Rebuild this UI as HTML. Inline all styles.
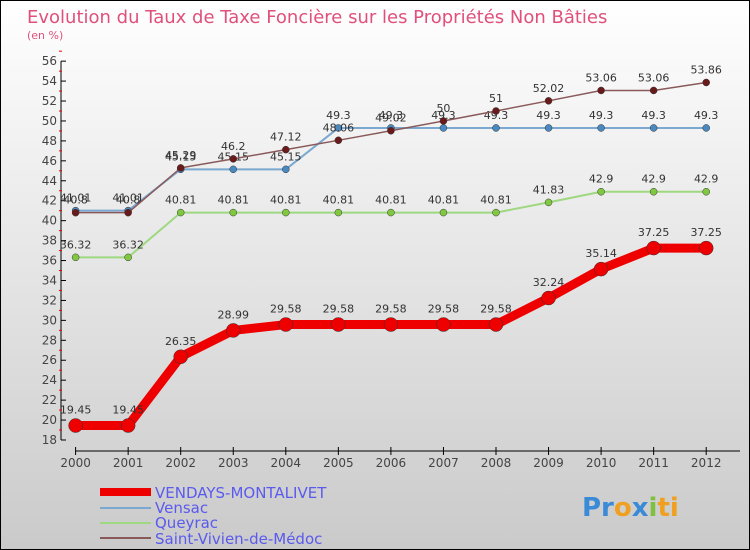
<!DOCTYPE html>
<html><head><meta charset="utf-8"><style>
body{margin:0}
svg{display:block;font-family:"DejaVu Sans","Liberation Sans",sans-serif}
</style></head><body>
<svg width="750" height="550" viewBox="0 0 750 550">
<defs><linearGradient id="bg" x1="0" y1="0" x2="0" y2="1"><stop offset="0" stop-color="#ffffff"/><stop offset="1" stop-color="#cacaca"/></linearGradient></defs>
<rect x="0.5" y="0.5" width="749" height="549" fill="url(#bg)" stroke="#000"/>
<text x="27" y="23" font-size="18" fill="#e0507a">Evolution du Taux de Taxe Foncière sur les Propriétés Non Bâties</text>
<text x="27" y="39" font-size="11" fill="#e0507a">(en %)</text>
<g id="axes"></g>
<g id="series"></g>
<g id="legend">
<rect x="100" y="488" width="51" height="8" fill="#e00"/>
<text x="155" y="498" font-size="15" fill="#5a5aee">VENDAYS-MONTALIVET</text>
<rect x="100" y="507" width="51" height="2" fill="#7aa8d0"/>
<text x="155" y="513" font-size="15" fill="#5a5aee">Vensac</text>
<rect x="100" y="522" width="51" height="2" fill="#9ed880"/>
<text x="155" y="528" font-size="15" fill="#5a5aee">Queyrac</text>
<rect x="100" y="537" width="51" height="2" fill="#8a5a5a"/>
<text x="155" y="544" font-size="15" fill="#5a5aee">Saint-Vivien-de-Médoc</text>
</g>
<g font-size="26" font-weight="bold">
<text x="582" y="516"><tspan fill="#3a8ad8">Pr</tspan><tspan fill="#f0a020">o</tspan><tspan fill="#3a8ad8">x</tspan><tspan fill="#80c040">i</tspan><tspan fill="#f0a020">ti</tspan></text>
</g>
</svg>
<script>
const years=["2000","2001","2002","2003","2004","2005","2006","2007","2008","2009","2010","2011","2012"];
const vendays=[19.45,19.45,26.35,28.99,29.58,29.58,29.58,29.58,29.58,32.24,35.14,37.25,37.25];
const vensac=[41.01,41.01,45.15,45.15,45.15,49.3,49.3,49.3,49.3,49.3,49.3,49.3,49.3];
const queyrac=[36.32,36.32,40.81,40.81,40.81,40.81,40.81,40.81,40.81,41.83,42.9,42.9,42.9];
const stvivien=[40.8,40.8,45.29,46.2,47.12,48.06,49.02,50,51,52.02,53.06,53.06,53.86];
const yTicks=[18,20,22,24,26,28,30,32,34,36,38,40,42,44,46,48,50,52,54,56];
const NS="http://www.w3.org/2000/svg";
const x=i=>75.6+i*52.55;
const y=v=>440-(v-18)*9.97;
function mk(t,a,p){const e=document.createElementNS(NS,t);for(const k in a)e.setAttribute(k,a[k]);p.appendChild(e);return e;}
const ax=document.getElementById('axes');
const yl=mk('line',{x1:61,y1:y(56),x2:61,y2:y(18),stroke:'#000'},ax);


yTicks.forEach(v=>{
  mk('line',{x1:61,y1:y(v),x2:66,y2:y(v),stroke:'#000'},ax);
  mk('line',{x1:59,y1:y(v+1),x2:62,y2:y(v+1),stroke:'#e00'},ax);
  const t=mk('text',{x:57,y:y(v)+4,'font-size':12,'text-anchor':'end',fill:'#444'},ax);
  t.textContent=v;
  
  
});
const xl=mk('line',{x1:75,y1:451,x2:740,y2:451,stroke:'#000'},ax);


years.forEach((yr,i)=>{
  mk('line',{x1:x(i),y1:447,x2:x(i),y2:455,stroke:'#000'},ax);
  const t=mk('text',{x:x(i),y:467,'font-size':12,'text-anchor':'middle',fill:'#444'},ax);
  t.textContent=yr;
  
  
});
const sg=document.getElementById('series');
function draw(vals,color,w,r,mcol,name){
  const g=mk('g',{},sg);
  
  
  const pl=mk('polyline',{points:vals.map((v,i)=>x(i)+','+y(v)).join(' '),fill:'none',stroke:color,'stroke-width':w,'stroke-linejoin':'round'},g);
  
  
  vals.forEach((v,i)=>{
    const c=mk('circle',{cx:x(i),cy:y(v),r:r,fill:mcol,stroke:'#333','stroke-width':0.5},g);
    
    
    const t=mk('text',{x:x(i),y:y(v)-9-(w>5?3:0),'font-size':11,'text-anchor':'middle',fill:'#333'},g);
    t.textContent=v;
    
    
  });
}
draw(queyrac,'#9ed880',2,3.5,'#80c840','queyrac');
draw(vensac,'#7aa8d0',2,3.5,'#4a88c0','vensac');
draw(stvivien,'#8a5a5a',1.5,3.5,'#6a1a1a','saint-vivien');
draw(vendays,'#e00',9,7,'#e00','vendays');
</script>
</body></html>
